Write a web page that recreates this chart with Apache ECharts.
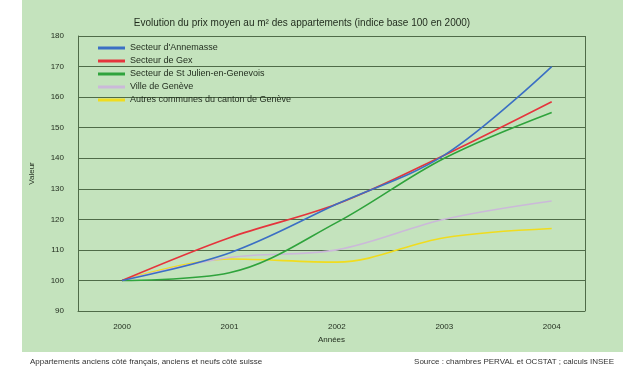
<!DOCTYPE html>
<html>
<head>
<meta charset="utf-8">
<script src="https://cdn.jsdelivr.net/npm/echarts@6/dist/echarts.min.js"></script>
<style>
  html, body { margin: 0; padding: 0; background: #ffffff; }
  #chart { width: 623px; height: 366px; }
</style>
</head>
<body>
<div id="chart"></div>
<script>
// Price index of flats per m², base 100 in 2000
const years = [2000, 2001, 2002, 2003, 2004];
const seriesNames = [
  "Secteur d'Annemasse",
  "Secteur de Gex",
  "Secteur de St Julien-en-Genevois",
  "Ville de Genève",
  "Autres communes du canton de Genève"
];
const annemasse = [100, 109, 125, 141, 170];
const gex       = [100, 114, 125, 141, 158.5];
const stJulien  = [100, 102.5, 119, 140, 155];
const geneve    = [100, 107.5, 110, 120, 126];
const autres    = [100, 107, 106, 114, 117];
const yTicks = [90, 100, 110, 120, 130, 140, 150, 160, 170, 180];

const values = [annemasse, gex, stJulien, geneve, autres];
const colors = ['#3b6fc4', '#e5343c', '#2fa33c', '#cbb9d9', '#f0dc1e'];
const textCol = '#1f2a1c';
const gridCol = '#4f6b48';
const font = 'Liberation Sans';

const chart = echarts.init(document.getElementById('chart'), null, { renderer: 'canvas' });

chart.setOption({
  animation: false,
  backgroundColor: '#ffffff',
  graphic: [
    { type: 'rect', z: -10, shape: { x: 22, y: 0, width: 601, height: 352 },
      style: { fill: '#c4e3bd' } },
    // right-hand frame edge of the plot area
    { type: 'line', z: 1, shape: { x1: 585.5, y1: 36, x2: 585.5, y2: 311 },
      style: { stroke: gridCol, lineWidth: 1 } }
  ],
  title: [
    { text: 'Evolution du prix moyen au m² des appartements (indice base 100 en 2000)',
      left: 297, top: 13, textAlign: 'center',
      textStyle: { fontFamily: font, fontSize: 10, fontWeight: 'normal', color: textCol } },
    { text: 'Appartements anciens côté français, anciens et neufs côté suisse',
      left: 25, top: 353,
      textStyle: { fontFamily: font, fontSize: 8, fontWeight: 'normal', color: '#333' } },
    { text: 'Source : chambres PERVAL et OCSTAT ; calculs INSEE',
      right: 4, top: 353,
      textStyle: { fontFamily: font, fontSize: 8, fontWeight: 'normal', color: '#333' } }
  ],
  legend: {
    orient: 'vertical',
    left: 93, top: 38,
    itemWidth: 27, itemHeight: 3, itemGap: 3,
    icon: 'rect',
    textStyle: { fontFamily: font, fontSize: 9, color: textCol, lineHeight: 10 },
    data: seriesNames
  },
  grid: { left: 78, right: 38, top: 36, bottom: 55 },
  xAxis: {
    type: 'value',
    min: 1999.59, max: 2004.31,
    name: 'Années', nameLocation: 'middle', nameGap: 24,
    nameTextStyle: { fontFamily: font, fontSize: 8, color: textCol },
    axisLine: { show: true, lineStyle: { color: gridCol, width: 1 } },
    axisTick: { show: false },
    splitLine: { show: false },
    axisLabel: { customValues: years, fontFamily: font, fontSize: 8, color: textCol, margin: 12,
      formatter: v => String(Math.round(v)) }
  },
  yAxis: {
    type: 'value',
    min: 90, max: 180, interval: 10,
    name: 'Valeur', nameLocation: 'middle', nameGap: 42, nameRotate: 90,
    nameTextStyle: { fontFamily: font, fontSize: 8, color: textCol },
    axisLine: { show: true, lineStyle: { color: gridCol, width: 1 } },
    axisTick: { show: false },
    splitLine: { show: true, lineStyle: { color: gridCol, width: 1.2 } },
    axisLabel: { fontFamily: font, fontSize: 8, color: textCol, margin: 14,
      formatter: v => yTicks.includes(v) ? String(v) : '' }
  },
  series: seriesNames.map((name, i) => ({
    name,
    type: 'line',
    smooth: 0.35,
    symbol: 'none',
    color: colors[i],
    lineStyle: { width: 1.6, color: colors[i] },
    data: years.map((y, j) => [y, values[i][j]]),
    z: 5 - i
  }))
});
</script>
</body>
</html>
